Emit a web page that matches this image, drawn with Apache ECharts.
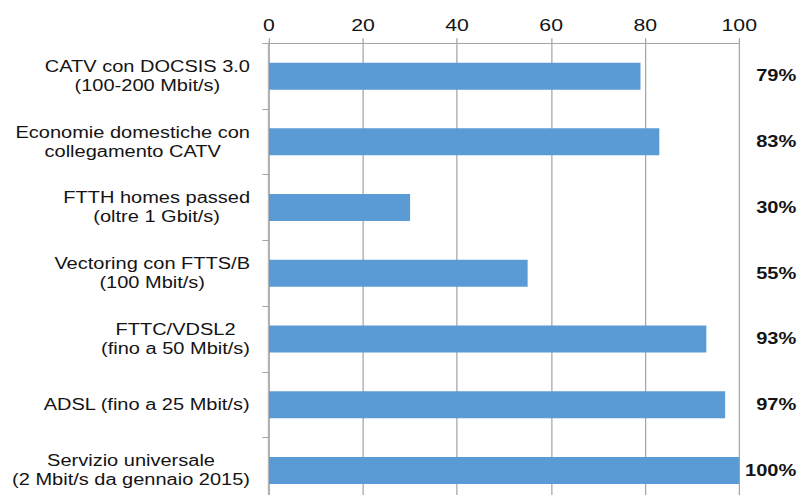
<!DOCTYPE html>
<html>
<head>
<meta charset="utf-8">
<script src="https://cdn.jsdelivr.net/npm/echarts@6/dist/echarts.min.js"></script>
<style>
  html, body { margin: 0; padding: 0; background: #fff; overflow: hidden; }
  #wrap { width: 800px; height: 495px; overflow: hidden; }
  /* the chart is laid out narrow and widened, giving the broad lettering;
     it runs a little past the bottom edge, where the last band is cut off */
  #chart { width: 640px; height: 520px; transform: scaleX(1.25); transform-origin: 0 0; }
</style>
</head>
<body>
<div id="wrap"><div id="chart"></div></div>
<script>
// Copertura per tecnologia di accesso (%)
const categories = [
  'CATV con DOCSIS 3.0\n(100-200 Mbit/s)',
  'Economie domestiche con\ncollegamento CATV',
  'FTTH homes passed\n(oltre 1 Gbit/s)',
  'Vectoring con FTTS/B\n(100 Mbit/s)',
  'FTTC/VDSL2\n(fino a 50 Mbit/s)',
  'ADSL (fino a 25 Mbit/s)',
  'Servizio universale\n(2 Mbit/s da gennaio 2015)'
];
const values = [79, 83, 30, 55, 93, 97, 100];
const valueLabels = values.map(v => v + '%');
const axisMin = 0;
const axisMax = 100;
const axisStep = 20;

const FONT = '"Liberation Sans", Arial, Helvetica, sans-serif';
const GRID_GRAY = '#a6a6a6';
const TEXT = '#141414';

const chart = echarts.init(document.getElementById('chart'), null, { renderer: 'svg' });

chart.setOption({
  animation: false,
  backgroundColor: '#ffffff',
  grid: { left: 215.2, top: 43.3, width: 376.8, height: 460, containLabel: false },
  xAxis: {
    type: 'value',
    position: 'top',
    min: axisMin,
    max: axisMax,
    interval: axisStep,
    axisLine: { show: true, lineStyle: { color: GRID_GRAY, width: 1 } },
    axisTick: { show: true, length: 5, lineStyle: { color: GRID_GRAY, width: 1 } },
    splitLine: { show: true, lineStyle: { color: GRID_GRAY, width: 1 } },
    axisLabel: { color: TEXT, fontSize: 17, fontFamily: FONT, margin: 10 }
  },
  yAxis: [
    {
      type: 'category',
      data: categories,
      inverse: true,
      axisLine: { show: true, lineStyle: { color: '#b4b4b4', width: 1.5 } },
      axisTick: { show: true, length: 5.3, lineStyle: { color: GRID_GRAY, width: 1 } },
      axisLabel: {
        margin: 15.2,
        formatter: v => v.split('\n').map(line => '{c|' + line + '}').join('\n'),
        rich: {
          c: { align: 'center', color: TEXT, fontSize: 16, lineHeight: 19, fontFamily: FONT }
        }
      }
    },
    {
      type: 'category',
      data: valueLabels,
      inverse: true,
      position: 'right',
      axisLine: { show: false },
      axisTick: { show: false },
      splitLine: { show: false },
      axisLabel: {
        align: 'right',
        margin: 45.6,
        color: TEXT,
        fontSize: 16,
        fontWeight: 'bold',
        fontFamily: FONT
      }
    }
  ],
  series: [{
    type: 'bar',
    yAxisIndex: 0,
    data: values,
    barWidth: 27,
    itemStyle: { color: '#5b9bd5' },
    label: { show: false }
  }]
});
</script>
</body>
</html>
